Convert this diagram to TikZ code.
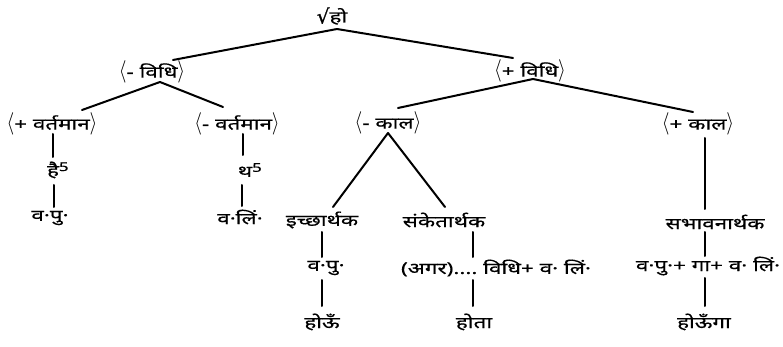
\documentclass[tikz,border=0pt]{standalone}
\usepackage{fontspec}
\setmainfont[Script=Devanagari,FakeStretch=1.4,FakeBold=0.6]{Noto Sans}
\newfontfamily\djv[FakeBold=1]{DejaVu Sans}
\newcommand\lbr{\scalebox{1.15}[1.3]{$\langle$}}
\newcommand\rbr{\scalebox{1.15}[1.3]{$\rangle$}}
\begin{document}
\begin{tikzpicture}[x=1pt,y=-1pt,
  lab/.style={inner sep=0pt,font=\fontsize{16}{19}\selectfont},
  edge/.style={line width=2pt,line cap=round}]
\useasboundingbox (0,0) rectangle (783,347);
% nodes
\node[lab] (root)   at (332,16)  {\raisebox{-1pt}{\djv\fontsize{20}{20}\selectfont √}हो};
\node[lab] (mvidhi) at (152,72)  {\lbr- विधि\rbr};
\node[lab] (pvidhi) at (530,71)  {\lbr+ विधि\rbr};
\node[lab] (pvart)  at (52,124)  {\lbr+ वर्तमान\rbr};
\node[lab] (mvart)  at (237,124) {\lbr- वर्तमान\rbr};
\node[lab] (mkaal)  at (388,123) {\lbr- काल\rbr};
\node[lab] (pkaal)  at (698,124) {\lbr+ काल\rbr};
\node[lab] (hai)    at (53,170)  {है\rlap{\raisebox{5pt}{\fontsize{12}{12}\selectfont 5}}};
\node[lab] (tha)    at (245,170) {थ\rlap{\raisebox{5pt}{\fontsize{12}{12}\selectfont 5}}};
\node[lab] (vpu1)   at (50,218)  {व·पु·};
\node[lab] (vlin1)  at (240,217) {व·लिं·};
\node[lab] (iccha)  at (322,220) {इच्छार्थक};
\node[lab] (sanket) at (444,220) {संकेतार्थक};
\node[lab] (sambh)  at (715,222) {सभावनार्थक};
\node[lab] (vpu2)   at (326,268) {व·पु·};
\node[lab] (agar)   at (496,268) {(अगर)....\ विधि+ व· लिं·};
\node[lab] (vpuga)  at (708,266) {व·पु·+ गा+ व· लिं·};
\node[lab] (hou)    at (322,322) {होऊँ};
\node[lab] (hota)   at (474,322) {होता};
\node[lab] (houga)  at (704,322) {होऊँगा};
% connectors
\draw[edge] ([shift={(5,13)}]root.center) -- ([shift={(21,-12)}]mvidhi.center);
\draw[edge] ([shift={(5,13)}]root.center) -- ([shift={(-17,-13)}]pvidhi.center);
\draw[edge] ([shift={(8,10)}]mvidhi.center) -- ([shift={(30,-14)}]pvart.center);
\draw[edge] ([shift={(8,10)}]mvidhi.center) -- ([shift={(-14,-17)}]mvart.center);
\draw[edge] ([shift={(3,8)}]pvidhi.center) -- ([shift={(10,-15)}]mkaal.center);
\draw[edge] ([shift={(3,8)}]pvidhi.center) -- ([shift={(-5,-12)}]pkaal.center);
\draw[edge] ([shift={(0,10)}]mkaal.center) -- ([shift={(11,-13)}]iccha.center);
\draw[edge] ([shift={(0,10)}]mkaal.center) -- ([shift={(1,-13)}]sanket.center);
\draw[edge] ([shift={(1,10)}]pvart.center) -- ([shift={(0,-13)}]hai.center);
\draw[edge] ([shift={(1,15)}]hai.center) -- ([shift={(4,-11)}]vpu1.center);
\draw[edge] ([shift={(6,10)}]mvart.center) -- ([shift={(-2,-15)}]tha.center);
\draw[edge] ([shift={(-3,15)}]tha.center) -- ([shift={(2,-11)}]vlin1.center);
\draw[edge] ([shift={(7,14)}]pkaal.center) -- ([shift={(-10,-13)}]sambh.center);
\draw[edge] ([shift={(0,12)}]iccha.center) -- ([shift={(-4,-11)}]vpu2.center);
\draw[edge] ([shift={(-4,12)}]vpu2.center) -- ([shift={(0,-16)}]hou.center);
\draw[edge] ([shift={(29,12)}]sanket.center) -- ([shift={(-23,-11)}]agar.center);
\draw[edge] ([shift={(-23,12)}]agar.center) -- ([shift={(-1,-16)}]hota.center);
\draw[edge] ([shift={(-10,10)}]sambh.center) -- ([shift={(-3,-10)}]vpuga.center);
\draw[edge] ([shift={(-3,12)}]vpuga.center) -- ([shift={(1,-16)}]houga.center);
\end{tikzpicture}
\end{document}
